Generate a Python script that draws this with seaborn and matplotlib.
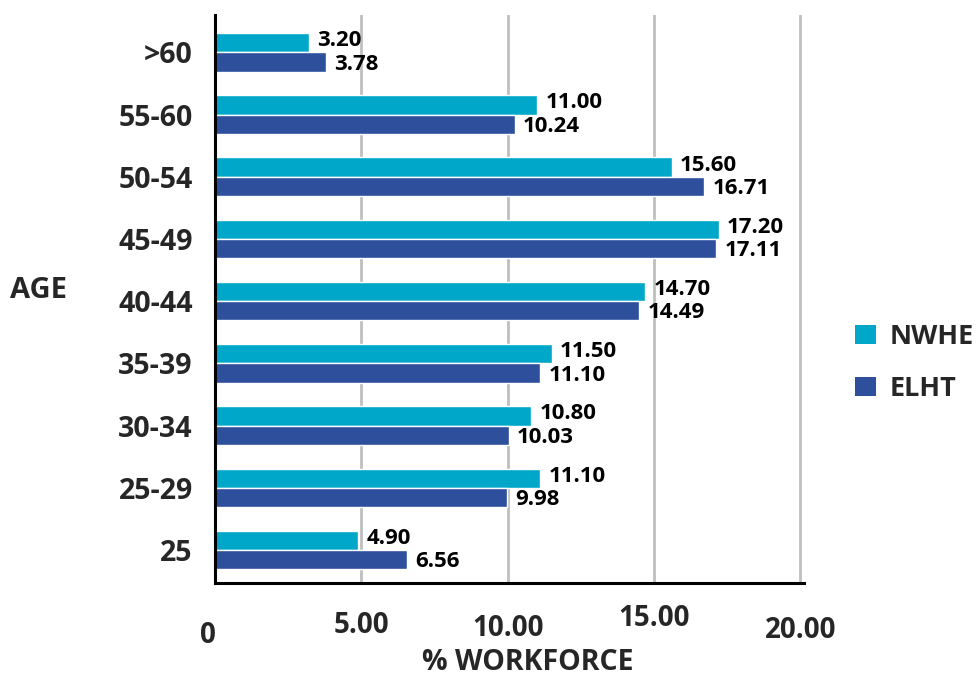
import matplotlib
matplotlib.use("Agg")
import matplotlib.pyplot as plt
import matplotlib.transforms as mtransforms
from matplotlib.patches import Patch
import seaborn as sns
import pandas as pd

ages = [">60", "55-60", "50-54", "45-49", "40-44", "35-39", "30-34", "25-29", "25"]
nwhe = [3.20, 11.00, 15.60, 17.20, 14.70, 11.50, 10.80, 11.10, 4.90]
elht = [3.78, 10.24, 16.71, 17.11, 14.49, 11.10, 10.03, 9.98, 6.56]
series = ["NWHE", "ELHT"]
colors = ["#00A7C9", "#2E4F9C"]
xticks = [0, 5, 10, 15, 20]
xticklabels = ["0", "5.00", "10.00", "15.00", "20.00"]

df = pd.DataFrame({
    "age": ages * 2,
    "value": nwhe + elht,
    "series": [series[0]] * len(ages) + [series[1]] * len(ages),
})

sns.set_theme(style="white")
plt.rcParams["font.family"] = ["Open Sans", "DejaVu Sans"]
plt.rcParams["font.weight"] = "bold"

fig = plt.figure(figsize=(9.77, 6.77), dpi=100)
ax = fig.add_axes([215 / 977, 1 - 583 / 677, (804 - 215) / 977, (583 - 15) / 677])

sns.barplot(data=df, y="age", x="value", hue="series", order=ages,
            hue_order=series, palette=colors, width=0.62, orient="h",
            edgecolor="white", linewidth=1.0, saturation=1, ax=ax, legend=False)

ax.set_xlim(0, 20.12)
ax.set_ylim(8.53, -0.6)
ax.set_xticks(xticks)
ax.set_xticklabels(xticklabels, fontsize=20, fontweight="bold")
ax.tick_params(axis="x", length=0, pad=22)
ax.tick_params(axis="y", length=0, pad=16, labelsize=20.5)
for lab in ax.get_yticklabels():
    lab.set_fontweight("bold")

# staggered x tick labels as in reference (pixel offsets)
offsets = [(-7, -7), (0, 3), (0, 0), (0, 10), (0, -2)]
for lab, (dx, dy) in zip(ax.get_xticklabels(), offsets):
    lab.set_transform(lab.get_transform() +
                      mtransforms.ScaledTranslation(dx / 100, dy / 100, fig.dpi_scale_trans))

ax.grid(axis="x", color="#BFBFBF", linewidth=2)
ax.grid(axis="y", visible=False)
ax.set_axisbelow(True)
for s in ["top", "right"]:
    ax.spines[s].set_visible(False)
for s in ["left", "bottom"]:
    ax.spines[s].set_color("black")
    ax.spines[s].set_linewidth(2.2)

ax.set_xlabel("")
ax.set_ylabel("")

label_dy = [1.5, -1.5]
for cont, dy in zip(ax.containers, label_dy):
    anns = ax.bar_label(cont, fmt="%.2f", padding=6, fontsize=16, fontweight="bold", color="black")
    for a in anns:
        x0, y0 = a.xyann
        a.xyann = (x0, y0 + dy)

fig.text(10 / 977, 1 - 290 / 677, "AGE", fontsize=21, fontweight="bold", va="center", ha="left")
fig.text(528 / 977, 1 - 662 / 677, "% WORKFORCE", fontsize=20.5, fontweight="bold", va="center", ha="center")

handles = [Patch(facecolor=c, edgecolor="none") for c in colors]
fig.legend(handles, series, loc="upper left", bbox_to_anchor=(855 / 977, 1 - 324 / 677),
           frameon=False, prop={"weight": "bold", "size": 19.5}, borderpad=0, borderaxespad=0,
           handlelength=0.78, handleheight=0.7, handletextpad=0.5, labelspacing=0.95)

fig.savefig("out.png", dpi=100)
